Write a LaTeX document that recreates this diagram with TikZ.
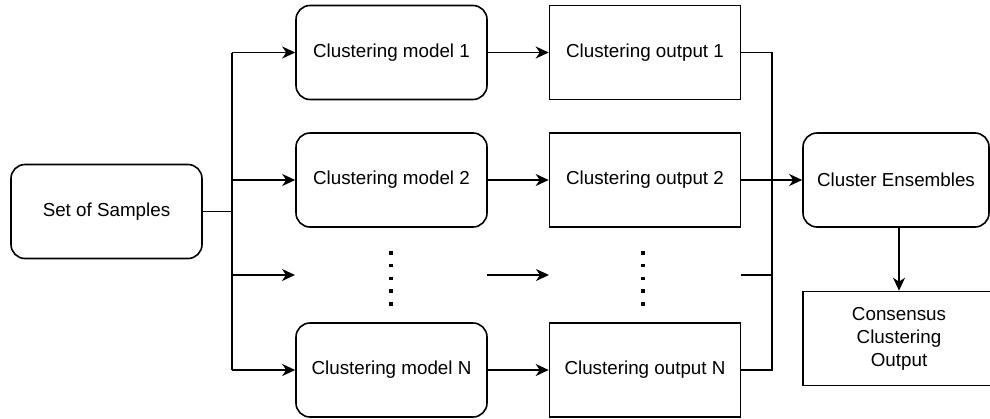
\documentclass[tikz,border=0pt]{standalone}
\usepackage{fontspec}
\setmainfont{Liberation Sans}
\usetikzlibrary{arrows.meta}
\begin{document}
\begin{tikzpicture}[x=1pt,y=-1pt,
  base/.style={draw, minimum width=191pt, minimum height=94pt, inner sep=0pt,
    font=\fontsize{18.8}{23}\selectfont, align=center, line width=1.6pt},
  rbox/.style={base, rounded corners=14pt},
  sbox/.style={base},
  arr/.style={-{Stealth[length=13pt,width=12pt,inset=4pt]}, line width=1.6pt},
  ln/.style={line width=1.6pt},
  dotm/.style={fill, minimum size=3.4pt, inner sep=0pt}]
\useasboundingbox (0,0) rectangle (990,418);
\clip (0,0) rectangle (990,418);

% nodes
\node[rbox] (sos) at (106.5,211.5) {Set of Samples};
\node[rbox] (m1) at (391.5,52.5) {Clustering model 1};
\node[rbox] (m2) at (391.5,180) {Clustering model 2};
\node[rbox] (mN) at (391.5,370) {Clustering model N};
\node[sbox] (o1) at (645,52.5) {Clustering output 1};
\node[sbox] (o2) at (645,180) {Clustering output 2};
\node[sbox] (oN) at (645,370) {Clustering output N};
\node[rbox, minimum width=186pt] (ce) at (896,180) {Cluster Ensembles};
\node[sbox, minimum width=192pt] (cons) at (899,338.5) {Consensus\\Clustering\\Output};

% dots
\foreach \i in {0,...,4} {
  \node[dotm] (da\i) at (391,253+12.7*\i) {};
  \node[dotm] (db\i) at (643,253+12.7*\i) {};
}

% coordinates
\coordinate (j0) at (232,211.5);
\coordinate (j1) at (232,52.5);
\coordinate (j2) at (232,180);
\coordinate (j3) at (232,275);
\coordinate (jN) at (232,370);
\coordinate (m3) at (295,275);
\coordinate (m3r) at (487,275);
\coordinate (o3l) at (549,275);
\coordinate (o3r) at (741,275);
\coordinate (c1) at (772,52.5);
\coordinate (c3) at (772,275);
\coordinate (cN) at (772,370);

% connectors
\draw[ln] (sos.east) -- (j0);
\draw[ln] (j1) -- (jN);
\draw[arr] (j1) -- (m1.west);
\draw[arr] (j2) -- (m2.west);
\draw[arr] (j3) -- (m3);
\draw[arr] (jN) -- (mN.west);
\draw[arr] (m1.east) -- (o1.west);
\draw[arr] (m2.east) -- (o2.west);
\draw[arr] (m3r) -- (o3l);
\draw[arr] (mN.east) -- (oN.west);
\draw[ln] (o1.east) -- (c1) -- (cN) -- (oN.east);
\draw[ln] (o3r) -- (c3);
\draw[arr] (o2.east) -- (ce.west);
\draw[arr] (ce.south -| cons.north) -- (cons.north);
\end{tikzpicture}
\end{document}
